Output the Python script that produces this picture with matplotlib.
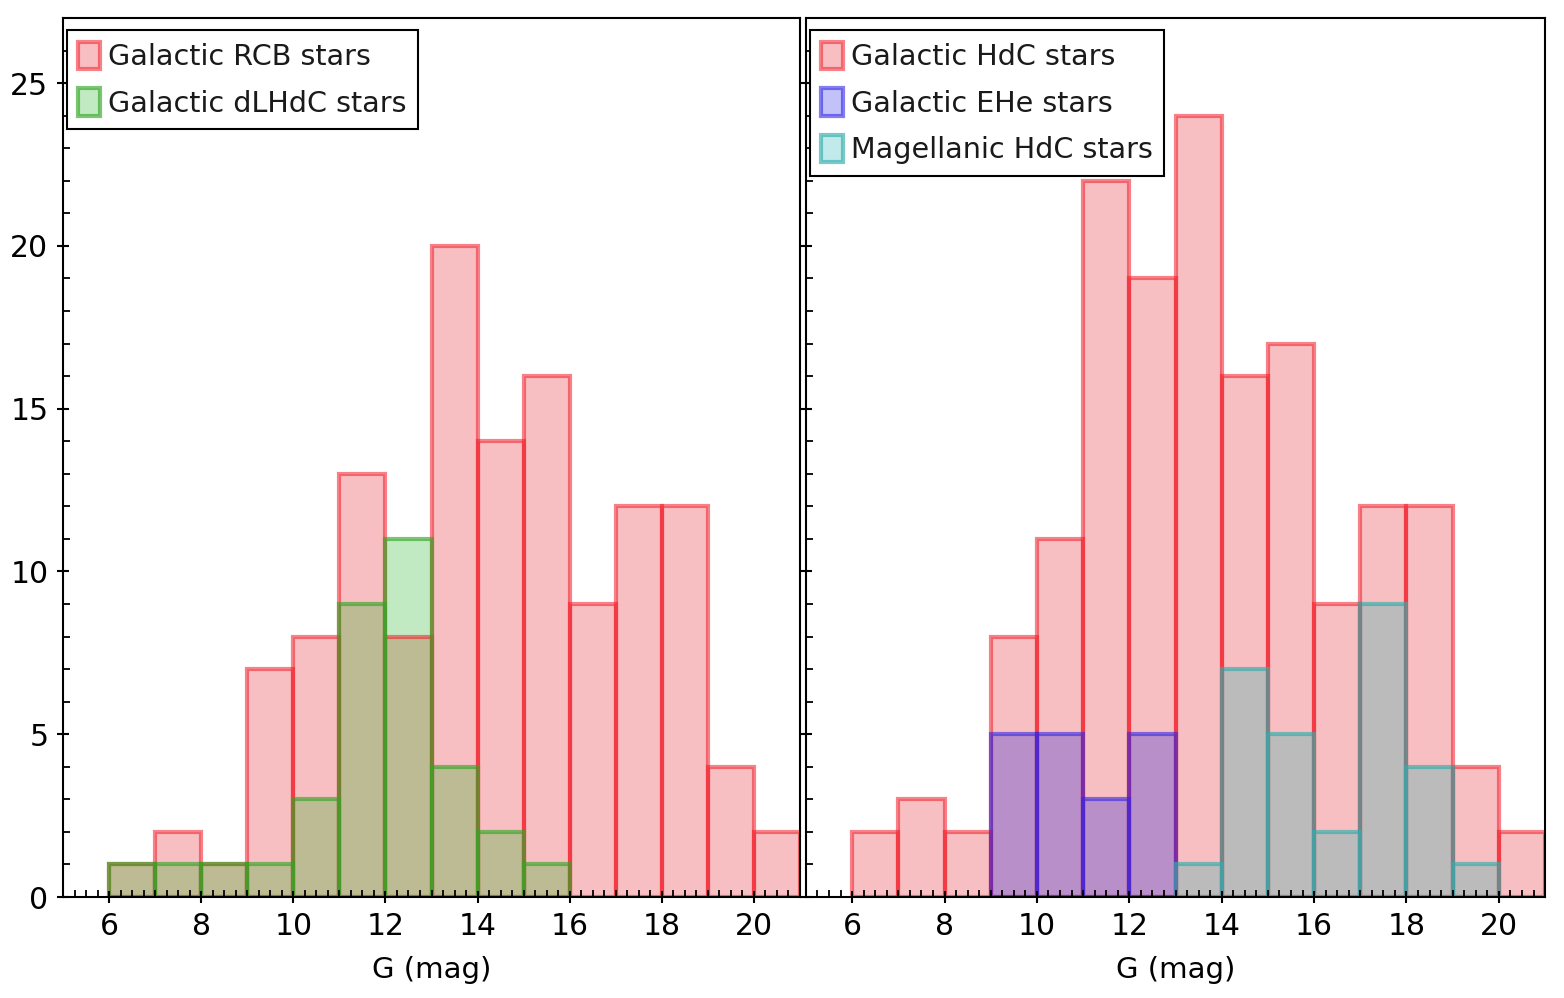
import numpy as np
import matplotlib
matplotlib.use("Agg")
import matplotlib.pyplot as plt
from matplotlib.patches import Patch
from matplotlib.ticker import MultipleLocator

plt.rcParams["font.family"] = ["DejaVu Sans"]

# bin edges (G mag), width 1
BIN_EDGES = [6, 7, 8, 9, 10, 11, 12, 13, 14, 15, 16, 17, 18, 19, 20, 21]

# left panel
RCB = [1, 2, 1, 7, 8, 13, 8, 20, 14, 16, 9, 12, 12, 4, 2]
DLHDC = [1, 1, 1, 1, 3, 9, 11, 4, 2, 1, 0, 0, 0, 0, 0]

# right panel
HDC = [2, 3, 2, 8, 11, 22, 19, 24, 16, 17, 9, 12, 12, 4, 2]
EHE = [0, 0, 0, 5, 5, 3, 5, 0, 0, 0, 0, 0, 0, 0, 0]
MAG_HDC = [0, 0, 0, 0, 0, 0, 0, 1, 7, 5, 2, 9, 4, 1, 0]

# fill, overlap-with-red fill, edge
RED = ("#f8bfc2", None, (0.95, 0.1, 0.15, 0.55))
GREEN = ("#c2eac2", "#bdbb94", (0.2, 0.65, 0.15, 0.65))
BLUE = ("#c2c2f8", "#b88fc8", (0.2, 0.15, 0.9, 0.6))
CYAN = ("#c2eaea", "#bbbbbb", (0.2, 0.68, 0.68, 0.65))

LW = 3.0


def draw_panel(ax, base, others, labels):
    left = np.array(BIN_EDGES[:-1])
    base = np.array(base)
    # base histogram fill
    ax.bar(left, base, width=1, align="edge", color=RED[0], linewidth=0, zorder=1)
    for vals, style in others:
        vals = np.array(vals)
        over = np.minimum(vals, base)
        extra = np.clip(vals - base, 0, None)
        ax.bar(left, over, width=1, align="edge", color=style[1], linewidth=0, zorder=1.2)
        ax.bar(left, extra, bottom=over, width=1, align="edge", color=style[0],
               linewidth=0, zorder=1.2)
    # outlines
    ax.bar(left, base, width=1, align="edge", fill=False, edgecolor=RED[2],
           linewidth=LW, zorder=1.5)
    for vals, style in others:
        vals = np.array(vals)
        mask = vals > 0
        ax.bar(left[mask], vals[mask], width=1, align="edge", fill=False,
               edgecolor=style[2], linewidth=LW, zorder=1.8)
    ax.set_axisbelow(False)

    handles = [Patch(facecolor=s[0], edgecolor=s[2], linewidth=LW)
               for s in [RED] + [o[1] for o in others]]
    leg = ax.legend(handles, labels, loc="upper left", bbox_to_anchor=(0.0054, 0.986),
                    fontsize=20.6, frameon=True, fancybox=False, framealpha=1,
                    edgecolor="black", handlelength=0.77, handleheight=1.1,
                    handletextpad=0.25, labelspacing=0.6, borderpad=0.4,
                    borderaxespad=0)
    leg.get_frame().set_linewidth(1.5)
    leg.set_zorder(5)
    for t in leg.get_texts():
        t.set_color("#1a1a1a")

    ax.set_xlim(5, 21)
    ax.set_ylim(0, 27)
    ax.set_xlabel("G (mag)", fontsize=21, labelpad=11)
    ax.xaxis.set_major_locator(MultipleLocator(2))
    ax.xaxis.set_minor_locator(MultipleLocator(0.25))
    ax.yaxis.set_major_locator(MultipleLocator(5))
    ax.yaxis.set_minor_locator(MultipleLocator(1))
    ax.tick_params(which="major", direction="inout", length=9, width=1.5,
                   labelsize=21.5, pad=6)
    ax.tick_params(which="minor", direction="in", length=5, width=1.3)
    for sp in ax.spines.values():
        sp.set_linewidth(1.5)


fig = plt.figure(figsize=(15.64, 9.98), dpi=100)
ax1 = fig.add_axes([0.0403, 0.1012, 0.4712, 0.8808])
ax2 = fig.add_axes([0.5153, 0.1012, 0.4726, 0.8808], sharey=ax1)

draw_panel(ax1, RCB, [(DLHDC, GREEN)],
           ["Galactic RCB stars", "Galactic dLHdC stars"])
draw_panel(ax2, HDC, [(EHE, BLUE), (MAG_HDC, CYAN)],
           ["Galactic HdC stars", "Galactic EHe stars", "Magellanic HdC stars"])
ax2.tick_params(labelleft=False)

fig.savefig("out.png", dpi=100)
